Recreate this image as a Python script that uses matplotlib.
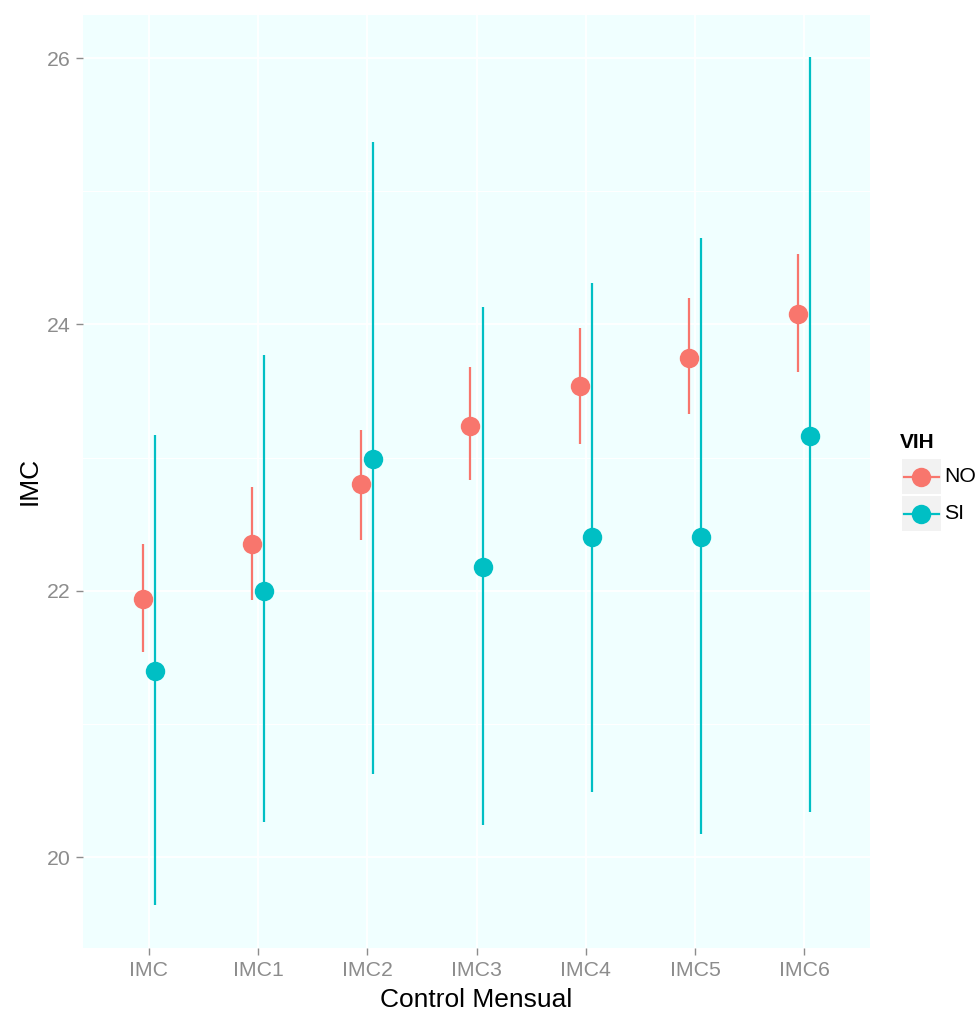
import matplotlib
matplotlib.use("Agg")
import matplotlib.pyplot as plt
from matplotlib.lines import Line2D
from matplotlib.patches import Rectangle
import numpy as np

plt.rcParams["font.family"] = ["Liberation Sans", "DejaVu Sans"]

# monthly BMI summary by HIV status: mean with lower/upper bounds
controles = ["IMC", "IMC1", "IMC2", "IMC3", "IMC4", "IMC5", "IMC6"]
grupos = ["NO", "SI"]
colores = {"NO": "#F8766D", "SI": "#00BFC4"}

no_media = [21.94, 22.35, 22.80, 23.24, 23.54, 23.75, 24.08]
no_inf = [21.54, 21.93, 22.38, 22.83, 23.10, 23.33, 23.64]
no_sup = [22.35, 22.78, 23.21, 23.68, 23.97, 24.20, 24.53]

si_media = [21.40, 22.00, 22.99, 22.18, 22.40, 22.40, 23.16]
si_inf = [19.64, 20.26, 20.62, 20.24, 20.49, 20.17, 20.34]
si_sup = [23.17, 23.77, 25.37, 24.13, 24.31, 24.65, 26.01]

series = {
    "NO": (no_media, no_inf, no_sup),
    "SI": (si_media, si_inf, si_sup),
}

W, H = 978, 1016
fig = plt.figure(figsize=(W / 100, H / 100), dpi=100)
fig.patch.set_facecolor("white")

# panel placed in pixel terms
px_l, px_r, px_t, px_b = 83, 870, 15, 948
ax = fig.add_axes([px_l / W, 1 - px_b / H, (px_r - px_l) / W, (px_b - px_t) / H])
ax.set_facecolor("#F0FFFF")
for s in ax.spines.values():
    s.set_visible(False)

xs = np.arange(len(controles))
dodge = 0.055
for k, g in enumerate(grupos):
    media, inf, sup = series[g]
    xp = xs + (-dodge if k == 0 else dodge)
    ax.vlines(xp, inf, sup, color=colores[g], lw=1.6, zorder=3)
    ax.plot(xp, media, "o", color=colores[g], ms=14, mec="none", zorder=4)

ax.set_xlim(-0.6, len(controles) - 0.4)
ax.set_ylim(19.317, 26.323)
ax.set_xticks(xs)
ax.set_xticklabels(controles)
ax.set_yticks([20, 22, 24, 26])
ax.set_yticks([21, 23, 25], minor=True)
ax.grid(which="major", color="white", lw=1.3, zorder=0)
ax.grid(which="minor", axis="y", color="white", lw=0.8, zorder=0)
ax.set_axisbelow(True)
ax.tick_params(which="major", length=5, width=1.0, color="#8C8C8C",
               labelcolor="#8C8C8C", labelsize=15.3, pad=4)
ax.tick_params(which="minor", length=0)

fig.text(px_l / W + (px_r - px_l) / W / 2, 1 - 1000 / H, "Control Mensual",
         ha="center", va="center", fontsize=19, color="black")
fig.text(30 / W, 1 - 481 / H, "IMC", ha="center", va="center",
         rotation=90, fontsize=19, color="black")

# legend drawn in its own pixel-based axes
lax = fig.add_axes([870 / W, 1 - 540 / H, 108 / W, 120 / H])
lax.set_xlim(870, 978)
lax.set_ylim(540, 420)
lax.axis("off")
lax.text(900, 443, "VIH", ha="left", va="center", fontsize=15,
         fontweight="bold", color="black")
for i, g in enumerate(grupos):
    y0 = 459 + i * 37
    lax.add_patch(Rectangle((902, y0), 39, 35, facecolor="#F2F2F2",
                            edgecolor="none"))
    cy = y0 + 17.5
    lax.add_line(Line2D([904, 939], [cy, cy], color=colores[g], lw=1.6))
    lax.plot([921.5], [cy], "o", color=colores[g], ms=14, mec="none")
    lax.text(944, cy, g, ha="left", va="center", fontsize=15.3, color="black")

fig.savefig("out.png", dpi=100, facecolor="white")
